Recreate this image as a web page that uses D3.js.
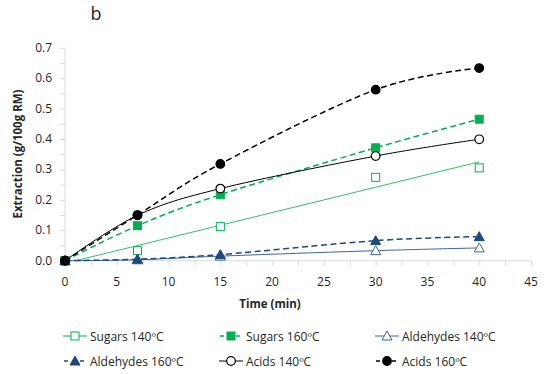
<!DOCTYPE html>
<html>
<head>
<meta charset="utf-8">
<script src="https://cdn.jsdelivr.net/npm/d3@7"></script>
<style>
  body { margin: 0; background: #fff; }
  svg text { font-family: 'Open Sans', sans-serif; fill: #262626; }
</style>
</head>
<body>
<div id="chart"></div>
<script>
var width = 550,
  height = 374;

// data
var times = [0, 7, 15, 30, 40];
var sugars140 = [0, 0.033, 0.112, 0.274, 0.305];
var sugars160 = [0, 0.115, 0.217, 0.371, 0.465];
var aldehydes140 = [0, 0.003, 0.015, 0.033, 0.042];
var aldehydes160 = [0, 0.005, 0.02, 0.066, 0.079];
var acids140 = [0, 0.149, 0.237, 0.344, 0.399];
var acids160 = [0, 0.15, 0.318, 0.562, 0.633];
var xTicks = [0, 5, 10, 15, 20, 25, 30, 35, 40, 45];
var yTicks = [0, 0.1, 0.2, 0.3, 0.4, 0.5, 0.6, 0.7];

var green = '#00b050',
  lightGreen = '#2fc266',
  navy = '#1f497d',
  blue = '#3a64a0';

var series = [
  { name: 'Sugars 140ºC', values: sugars140, color: green, lineColor: lightGreen, dash: null, marker: 'square', filled: false, trend: true },
  { name: 'Sugars 160ºC', values: sugars160, color: green, lineColor: green, dash: '6,3.5', marker: 'square', filled: true },
  { name: 'Aldehydes 140ºC', values: aldehydes140, color: blue, lineColor: blue, dash: null, marker: 'triangle', filled: false },
  { name: 'Aldehydes 160ºC', values: aldehydes160, color: navy, lineColor: navy, dash: '6,3.5', marker: 'triangle', filled: true },
  { name: 'Acids 140ºC', values: acids140, color: '#000', lineColor: '#000', dash: null, marker: 'circle', filled: false },
  { name: 'Acids 160ºC', values: acids160, color: '#000', lineColor: '#000', dash: '6,3.5', marker: 'circle', filled: true }
];

var svg = d3
  .select('#chart')
  .append('svg')
  .attr('width', width)
  .attr('height', height);

var x = d3.scaleLinear().domain([0, 45]).range([65, 531]);
var y = d3.scaleLinear().domain([0, 0.7]).range([260.7, 47.7]);

// axes with minor ticks
var xAxis = svg
  .append('g')
  .attr('transform', 'translate(0,' + y(0) + ')')
  .call(d3.axisBottom(x).tickValues(d3.range(0, 45.1, 2.5)).tickSize(5).tickFormat(''));
var yAxis = svg
  .append('g')
  .attr('transform', 'translate(' + x(0) + ',0)')
  .call(d3.axisLeft(y).tickValues(d3.range(0, 0.701, 0.05)).tickSize(5).tickFormat(''));

xAxis.select('.domain').remove();
yAxis.select('.domain').remove();
svg.append('line').attr('x1', x(0)).attr('x2', x(45)).attr('y1', y(0)).attr('y2', y(0)).attr('stroke', '#d9d9d9');
svg.append('line').attr('x1', x(0)).attr('x2', x(0)).attr('y1', y(0)).attr('y2', y(0.7)).attr('stroke', '#d9d9d9');
svg.selectAll('.tick line').attr('stroke', '#d9d9d9');

svg
  .selectAll('.xlab')
  .data(xTicks)
  .enter()
  .append('text')
  .attr('x', d => x(d))
  .attr('y', 286)
  .attr('text-anchor', 'middle')
  .style('font-size', '12px')
  .text(d => d);

svg
  .selectAll('.ylab')
  .data(yTicks)
  .enter()
  .append('text')
  .attr('x', 52)
  .attr('y', d => y(d) + 4)
  .attr('text-anchor', 'end')
  .style('font-size', '12px')
  .text(d => d.toFixed(1));

svg
  .append('text')
  .attr('x', 270)
  .attr('y', 308)
  .attr('text-anchor', 'middle')
  .style('font-size', '11.5px')
  .style('font-weight', 'bold')
  .text('Time (min)');

svg
  .append('text')
  .attr('transform', 'translate(22,' + 154 + ') rotate(-90)')
  .attr('text-anchor', 'middle')
  .style('font-size', '11.5px')
  .style('font-weight', 'bold')
  .text('Extraction (g/100g RM)');

svg
  .append('text')
  .attr('x', 96)
  .attr('y', 20)
  .attr('text-anchor', 'middle')
  .style('font-size', '18px')
  .text('b');

var line = d3
  .line()
  .x(d => x(d[0]))
  .y(d => y(d[1]))
  .curve(d3.curveCatmullRom.alpha(0));

function drawMarker(g, s, cx, cy) {
  var fill = s.filled ? s.color : '#fff';
  if (s.marker === 'square') {
    g.append('rect')
      .attr('x', cx - 4).attr('y', cy - 4)
      .attr('width', 8).attr('height', 8)
      .attr('fill', fill).attr('stroke', s.color).attr('stroke-width', 1);
  } else if (s.marker === 'triangle') {
    g.append('path')
      .attr('d', 'M' + cx + ',' + (cy - 5) + 'L' + (cx + 5) + ',' + (cy + 4) + 'L' + (cx - 5) + ',' + (cy + 4) + 'Z')
      .attr('fill', fill).attr('stroke', s.color).attr('stroke-width', 1);
  } else {
    g.append('circle')
      .attr('cx', cx).attr('cy', cy).attr('r', 4.3)
      .attr('fill', fill).attr('stroke', s.color).attr('stroke-width', 1.2);
  }
}

series.forEach(function (s) {
  var pts = times.map((t, i) => [t, s.values[i]]);
  var g = svg.append('g');
  if (s.trend) {
    // linear trendline fitted to the points, clipped at zero
    var xm = d3.mean(times), ym = d3.mean(s.values);
    var sxy = d3.sum(times, (t, i) => (t - xm) * (s.values[i] - ym));
    var sxx = d3.sum(times, t => (t - xm) * (t - xm));
    var b = sxy / sxx, a = ym - b * xm;
    var x0 = Math.max(0, -a / b);
    g.append('path')
      .attr('d', d3.line().x(d => x(d[0])).y(d => y(d[1]))([[x0, a + b * x0], [40, a + b * 40]]))
      .attr('fill', 'none')
      .attr('stroke', s.lineColor)
      .attr('stroke-width', 1);
  } else {
    g.append('path')
      .attr('d', line(pts))
      .attr('fill', 'none')
      .attr('stroke', s.lineColor)
      .attr('stroke-width', s.dash ? 1.5 : 1)
      .attr('stroke-dasharray', s.dash);
  }
  pts.forEach(p => drawMarker(g, s, x(p[0]), y(p[1])));
});

// legend
var legCols = [63, 219, 375],
  legRows = [336, 361];
series.forEach(function (s, i) {
  var lx = legCols[i % 3],
    ly = legRows[Math.floor(i / 3)];
  var g = svg.append('g');
  g.append('line')
    .attr('x1', lx).attr('x2', lx + 24)
    .attr('y1', ly).attr('y2', ly)
    .attr('stroke', s.trend ? s.color : s.lineColor)
    .attr('stroke-width', s.dash ? 1.5 : 1)
    .attr('stroke-dasharray', s.dash ? '4,4' : null)
    .attr('stroke-dashoffset', s.dash ? -1 : null);
  drawMarker(g, s, lx + 12, ly);
  g.append('text')
    .attr('x', lx + 27)
    .attr('y', ly + 4.5)
    .style('font-size', '12px')
    .text(s.name);
});
</script>
</body>
</html>
